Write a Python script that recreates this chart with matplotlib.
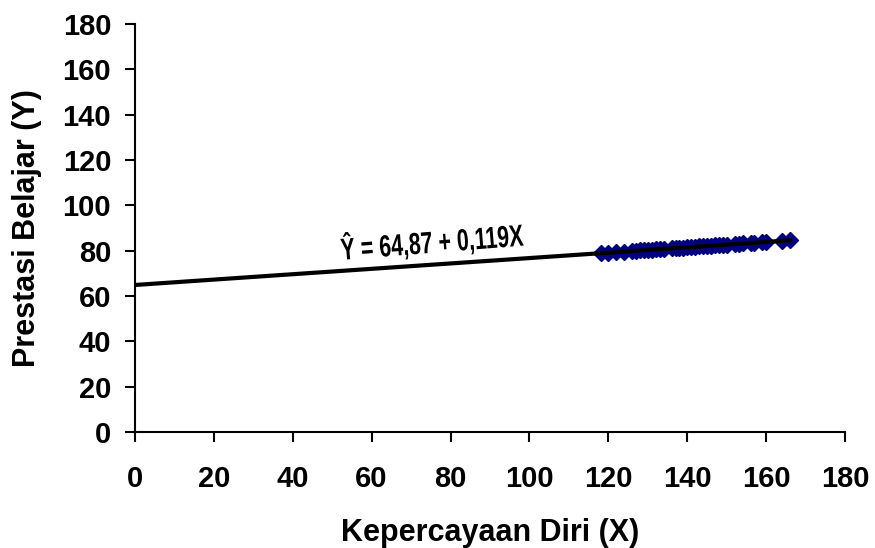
import matplotlib.pyplot as plt
from matplotlib.patheffects import AbstractPathEffect
from matplotlib.transforms import Affine2D

# Data
x_points = [118, 120, 122, 124, 126, 127, 128, 129, 130, 131, 132, 133, 134,
            136, 137, 138, 139, 140, 141, 142, 143, 144, 145, 146, 147, 148,
            149, 150, 152, 153, 154, 156, 157, 159, 160, 164, 166]
y_points = [78.9, 79.2, 79.4, 79.6, 79.9, 80.0, 80.1, 80.2, 80.3, 80.5, 80.6,
            80.7, 80.8, 81.1, 81.2, 81.3, 81.4, 81.5, 81.7, 81.8, 81.9, 82.0,
            82.1, 82.2, 82.4, 82.5, 82.6, 82.7, 83.0, 83.1, 83.2, 83.4, 83.6,
            83.8, 83.9, 84.4, 84.6]
line_x = [0, 166]
line_y = [64.87, 84.6]
x_ticks = list(range(0, 181, 20))
y_ticks = list(range(0, 181, 20))
equation = "Ŷ = 64,87 + 0,119X"


class Narrow(AbstractPathEffect):
    # squeeze text horizontally around its own centre (condensed look)
    def __init__(self, sx=0.75):
        super().__init__()
        self.sx = sx

    def draw_path(self, renderer, gc, tpath, affine, rgbFace=None):
        ext = tpath.get_extents()
        cx = (ext.x0 + ext.x1) / 2
        t = Affine2D().translate(-cx, 0).scale(self.sx, 1).translate(cx, 0) + affine
        renderer.draw_path(gc, tpath, t, rgbFace)


plt.rcParams['font.family'] = ['Liberation Sans', 'DejaVu Sans']

fig = plt.figure(figsize=(8.75, 5.48), dpi=100)
ax = fig.add_axes([0.154, 0.2117, 0.812, 0.7443])

ax.plot(x_points, y_points, linestyle='none', marker='D', markersize=8,
        color='#000080', zorder=2)
ax.plot(line_x, line_y, color='black', linewidth=3, zorder=3)

ax.text(75.3, 83.3, equation, rotation=4.5, rotation_mode='anchor',
        ha='center', va='center', fontsize=22, fontweight='bold',
        path_effects=[Narrow(0.7)])

ax.set_xlim(0, 180)
ax.set_ylim(0, 180)
ax.set_xticks(x_ticks)
ax.set_yticks(y_ticks)
ax.set_xticklabels([str(t) for t in x_ticks], fontsize=21, fontweight='bold')
ax.set_yticklabels([str(t) for t in y_ticks], fontsize=21, fontweight='bold')
ax.tick_params(axis='both', direction='out', length=7, width=1.5)
ax.tick_params(axis='x', pad=17)
ax.tick_params(axis='y', pad=10)

for side in ['top', 'right']:
    ax.spines[side].set_visible(False)
for side in ['left', 'bottom']:
    ax.spines[side].set_linewidth(1.5)

ax.set_xlabel("Kepercayaan Diri (X)", fontsize=22, fontweight='bold', labelpad=18)
ax.set_ylabel("Prestasi Belajar (Y)", fontsize=22, fontweight='bold', labelpad=15)

fig.savefig("out.png", dpi=100)
plt.close(fig)
